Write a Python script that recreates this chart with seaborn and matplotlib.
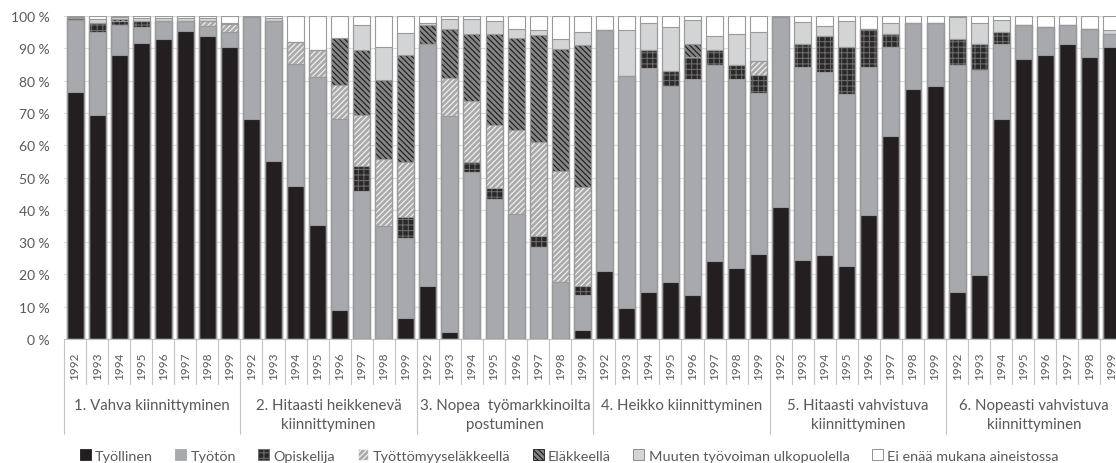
import numpy as np
import pandas as pd
import matplotlib
matplotlib.use("Agg")
import matplotlib.pyplot as plt
import seaborn as sns
from matplotlib.patches import Patch
from matplotlib.transforms import blended_transform_factory

groups = ["1. Vahva kiinnittyminen",
          "2. Hitaasti heikkenevä\nkiinnittyminen",
          "3. Nopea  työmarkkinoilta\npostuminen",
          "4. Heikko kiinnittyminen",
          "5. Hitaasti vahvistuva\nkiinnittyminen",
          "6. Nopeasti vahvistuva\nkiinnittyminen"]
years = ["1992", "1993", "1994", "1995", "1996", "1997", "1998", "1999"]
categories = ["Työllinen", "Työtön", "Opiskelija", "Työttömyyseläkkeellä",
              "Eläkkeellä", "Muuten työvoiman ulkopuolella", "Ei enää mukana aineistossa"]

tyollinen = [76.5, 69.4, 87.8, 91.7, 92.8, 95.3, 93.7, 90.4,
             68.2, 55.1, 47.3, 35.4, 9.0, 0.0, 0.0, 6.4,
             16.5, 2.3, 0.0, 0.0, 0.0, 0.0, 0.0, 2.8,
             21.2, 9.5, 14.7, 17.8, 13.6, 24.3, 21.9, 26.3,
             40.8, 24.6, 26.0, 22.7, 38.4, 63.0, 77.5, 78.3,
             14.5, 19.8, 68.0, 86.8, 88.0, 91.4, 87.3, 90.4]
tyoton = [22.2, 25.6, 9.3, 4.9, 5.5, 3.0, 3.2, 4.8,
          31.5, 43.2, 37.8, 45.6, 59.0, 45.7, 35.1, 24.8,
          74.9, 66.7, 51.7, 43.4, 38.7, 28.4, 17.6, 10.8,
          74.4, 71.9, 69.2, 60.5, 67.0, 60.4, 58.7, 49.9,
          58.9, 59.6, 56.6, 53.2, 45.8, 27.4, 20.4, 19.6,
          70.4, 63.4, 23.4, 10.5, 8.6, 5.7, 8.6, 4.1]
opiskelija = [0.6, 2.9, 1.3, 1.7, 0.0, 0.0, 0.0, 0.0,
              0.0, 0.0, 0.0, 0.0, 0.0, 8.0, 0.0, 6.5,
              0.0, 0.0, 3.1, 3.3, 0.0, 3.6, 0.0, 2.9,
              0.0, 0.0, 5.5, 4.6, 6.7, 4.7, 4.3, 5.6,
              0.0, 7.2, 11.2, 14.5, 11.9, 4.1, 0.0, 0.0,
              8.1, 8.2, 3.8, 0.0, 0.0, 0.0, 0.0, 0.0]
tyottomyyselake = [0.0, 0.0, 0.0, 0.0, 0.0, 0.0, 1.5, 2.2,
                   0.0, 0.0, 6.8, 8.4, 10.5, 15.5, 20.5, 17.1,
                   0.0, 11.8, 18.8, 19.6, 25.9, 29.0, 34.3, 30.5,
                   0.0, 0.0, 0.0, 0.0, 0.0, 0.0, 0.0, 4.2,
                   0.0, 0.0, 0.0, 0.0, 0.0, 0.0, 0.0, 0.0,
                   0.0, 0.0, 0.0, 0.0, 0.0, 0.0, 0.0, 0.0]
elakkeella = [0.0, 0.0, 0.6, 0.0, 0.0, 0.0, 0.0, 0.0,
              0.0, 0.0, 0.0, 0.0, 14.7, 20.2, 24.5, 33.2,
              5.9, 15.3, 20.9, 28.2, 28.6, 33.0, 38.0, 43.9,
              0.0, 0.0, 0.0, 0.0, 4.1, 0.0, 0.0, 0.0,
              0.0, 0.0, 0.0, 0.0, 0.0, 0.0, 0.0, 0.0,
              0.0, 0.0, 0.0, 0.0, 0.0, 0.0, 0.0, 0.0]
muuten = [0.4, 1.2, 0.6, 1.2, 1.2, 1.2, 1.0, 0.4,
          0.2, 1.0, 0.0, 0.0, 0.0, 7.7, 10.3, 6.8,
          0.6, 2.9, 4.5, 3.8, 2.9, 1.6, 3.1, 4.1,
          0.0, 14.2, 8.5, 13.7, 7.3, 4.4, 9.6, 9.0,
          0.0, 6.7, 3.1, 8.0, 0.0, 3.4, 0.0, 0.0,
          6.7, 6.5, 3.5, 0.0, 0.0, 0.0, 0.0, 1.1]
ei_enaa = [0.3, 0.9, 0.4, 0.5, 0.5, 0.5, 0.6, 2.2,
           0.1, 0.7, 8.1, 10.6, 6.8, 2.9, 9.6, 5.2,
           2.1, 1.0, 1.0, 1.7, 3.9, 4.4, 7.0, 5.0,
           4.4, 4.4, 2.1, 3.4, 1.3, 6.2, 5.5, 5.0,
           0.3, 1.9, 3.1, 1.6, 3.9, 2.1, 2.1, 2.1,
           0.3, 2.1, 1.3, 2.7, 3.4, 2.9, 4.1, 4.4]

series = [tyollinen, tyoton, opiskelija, tyottomyyselake, elakkeella, muuten, ei_enaa]
faces = ["#231f20", "#a7a9ac", "#2b2829", "#ababab", "#858585", "#d3d4d5", "#ffffff"]
hatches = [None, None, "+++", "//////", "\\\\\\\\\\\\", None, None]
hatch_cols = [None, None, "#6a6a6a", "#f4f4f4", "#1a1a1a", None, None]
outline = "#9a9a9a"
text_col = "#595959"

bar_ids = [f"{g}|{y}" for g in range(len(groups)) for y in years]
stack = np.array(series, dtype=float)
cum = np.cumsum(stack, axis=0)

sns.set_theme(style="white")
plt.rcParams['font.family'] = ['Lato', 'DejaVu Sans']
plt.rcParams['hatch.linewidth'] = 0.8

fig = plt.figure(figsize=(11.16, 4.64), dpi=100)
ax = fig.add_axes([64 / 1116, 124 / 464, 1058.5 / 1116, 323 / 464])

W = 0.77
# filled layers, top category first so lower ones overlay
for k in reversed(range(len(series))):
    n0 = len(ax.patches)
    df = pd.DataFrame({"bar": bar_ids, "val": cum[k]})
    sns.barplot(data=df, x="bar", y="val", order=bar_ids, color=faces[k],
                saturation=1, width=W, errorbar=None, ax=ax)
    for p in ax.patches[n0:]:
        p.set_facecolor(faces[k])
        p.set_linewidth(0)
        if hatches[k]:
            p.set_hatch(hatches[k])
            p.set_edgecolor(hatch_cols[k])
        else:
            p.set_edgecolor("none")
# outlines
for k in reversed(range(len(series))):
    n0 = len(ax.patches)
    df = pd.DataFrame({"bar": bar_ids, "val": cum[k]})
    sns.barplot(data=df, x="bar", y="val", order=bar_ids, color=outline,
                saturation=1, width=W, errorbar=None, ax=ax)
    for p in ax.patches[n0:]:
        p.set_facecolor("none")
        p.set_hatch(None)
        p.set_edgecolor(outline)
        p.set_linewidth(0.8)

ax.set_xlim(-0.5, len(bar_ids) - 0.5)
ax.set_ylim(0, 100)
ax.set_yticks(np.arange(0, 101, 10))
ax.set_yticklabels([f"{v} %" for v in range(0, 101, 10)])
ax.set_xticks(range(len(bar_ids)))
ax.set_xticklabels(years * len(groups), rotation=90)
ax.tick_params(axis="y", length=0, pad=10, labelsize=10, labelcolor=text_col)
ax.tick_params(axis="x", length=0, pad=9, labelsize=8.5, labelcolor=text_col)
ax.set_xlabel("")
ax.set_ylabel("")
ax.set_axisbelow(True)
ax.yaxis.grid(True, color="#d9d9d9", linewidth=0.8)
for s in ["top", "right", "left"]:
    ax.spines[s].set_visible(False)
ax.spines["bottom"].set_color("#bfbfbf")
ax.spines["bottom"].set_linewidth(0.8)

tr = blended_transform_factory(ax.transData, ax.transAxes)
n_years = len(years)
for i in range(len(bar_ids) + 1):
    xpos = i - 0.5
    ybot = -0.294 if i % n_years == 0 else -0.139
    ax.plot([xpos, xpos], [0, ybot], transform=tr, color="#c4c4c4",
            linewidth=0.8, clip_on=False)
for g, name in enumerate(groups):
    ax.text(g * n_years + (n_years - 1) / 2, -0.183, name, transform=tr,
            ha="center", va="top", fontsize=10.8, color=text_col, linespacing=1.4)

handles = []
for k, name in enumerate(categories):
    if hatches[k]:
        handles.append(Patch(facecolor=faces[k], hatch=hatches[k], edgecolor=hatch_cols[k],
                             linewidth=0.6, label=name))
    else:
        handles.append(Patch(facecolor=faces[k], edgecolor="#7f7f7f" if k >= 5 else faces[k],
                             linewidth=0.6, label=name))
leg = fig.legend(handles=handles, loc="center", bbox_to_anchor=(0.510, 0.016), ncol=7,
                 frameon=False, handlelength=0.75, handleheight=0.75, handletextpad=0.3,
                 columnspacing=1.55, fontsize=10.4, borderaxespad=0)
for t in leg.get_texts():
    t.set_color(text_col)

fig.savefig("out.png", dpi=100)
